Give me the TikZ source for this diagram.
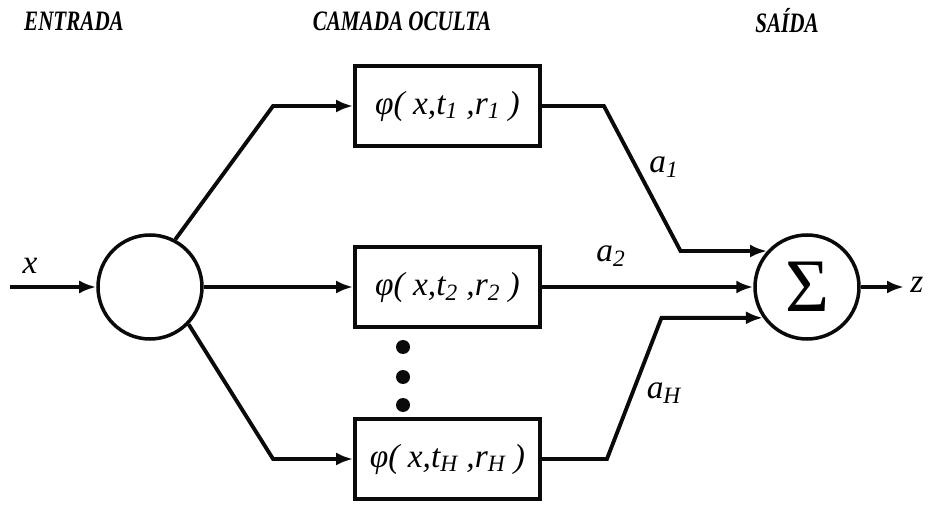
\documentclass[tikz,border=0pt]{standalone}
\usepackage{fontspec}
\setmainfont{Liberation Serif}
\usetikzlibrary{arrows.meta}
\definecolor{ink}{HTML}{0A0A0A}

\tikzset{
  wire/.style={line width=2.2pt, draw=ink},
  feed/.style={wire, -{Latex[length=3.4mm,width=2.6mm]}},
  unit/.style={circle, line width=2pt, draw=ink, minimum size=2.08cm, inner sep=0pt},
  rbf/.style={rectangle, line width=2.2pt, draw=ink, minimum width=3.7cm,
    minimum height=1.6cm, font=\fontsize{19}{22}\selectfont\itshape},
  head/.style={font=\fontsize{16}{19}\selectfont\bfseries\itshape, xscale=0.75},
  wlabel/.style={font=\fontsize{19}{22}\selectfont\itshape}
}

\begin{document}
\begin{tikzpicture}
  \useasboundingbox (0,0) rectangle (18.56,10.1);

  % Layer titles
  \node[head] (hin) at (1.48, 9.68) {ENTRADA};
  \node[head] (hid) at (8.04, 9.68) {CAMADA OCULTA};
  \node[head] (hout) at (15.74, 9.68) {SAÍDA};

  % Input unit and summing unit
  \node[unit] (in) at (3.0, 4.36) {};
  \node[unit, font=\fontsize{43}{43}\selectfont] (sum) at (16.14, 4.36) {Σ};

  % Input x
  \coordinate (src) at (0.2, 4.36);
  \node[wlabel] (xin) at (0.6, 4.78) {x};
  \draw[feed] (src) -- (in);

  % Hidden layer, one box per basis function
  \foreach \n/\y in {1/7.98, 2/4.36, H/0.92} {
    \node[rbf] (t\n) at (8.95, \y) {φ( x,t\textsubscript{\n} ,r\textsubscript{\n} )};
  }

  % Dots between box 2 and box H
  \foreach \y in {3.16, 2.56, 2.0}
    \fill[ink] (8.06, \y) circle (0.14);

  % Input to hidden
  \draw[feed] (in.62) -- ([xshift=-1.6cm]t1.west) -- (t1.west);
  \draw[feed] (in) -- (t2);
  \draw[feed] (in.-44) -- ([xshift=-1.6cm]tH.west) -- (tH.west);

  % Hidden to output
  \draw[feed] (t1.east) -- ++(1.24,0) -- ([xshift=-1.73cm]sum.138) -- (sum.138);
  \draw[feed] (t2) -- (sum);
  \draw[feed] (tH.east) -- ++(1.3,0) -- ([xshift=-2.03cm]sum.215) -- (sum.215);

  % Weights
  \node[wlabel] (a1) at (13.28, 6.76) {a\textsubscript{1}};
  \node[wlabel] (a2) at (12.22, 4.98) {a\textsubscript{2}};
  \node[wlabel] (aH) at (13.28, 2.24) {a\textsubscript{H}};

  % Output z
  \coordinate (out) at (18.08, 4.36);
  \draw[feed] (sum) -- (out);
  \node[wlabel, anchor=west, inner sep=0pt] (z) at (18.2, 4.4) {z};
\end{tikzpicture}
\end{document}
